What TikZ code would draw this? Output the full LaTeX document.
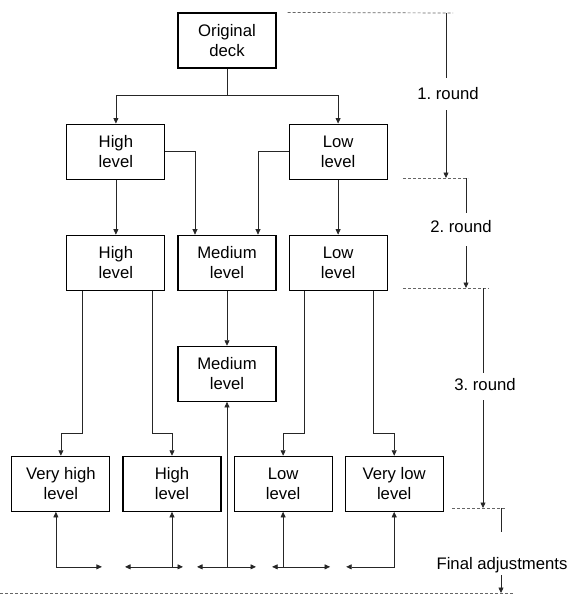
\documentclass[tikz,border=0pt]{standalone}
\usepackage{fontspec}
\setmainfont{Liberation Sans}
\usetikzlibrary{positioning}
\usetikzlibrary{arrows.meta}
\tikzstyle{arrow} = [line width=0.7pt,black!85,->,>={Triangle[length=5.5pt,width=5pt]}]
\tikzstyle{box} = [draw,line width=1.1pt,minimum width=98pt,minimum height=55pt,align=center,inner sep=2pt]
\tikzstyle{roundline} = [black!60,line width=0.7pt,dash pattern=on 3pt off 2pt]
\frenchspacing

\begin{document}
\begin{tikzpicture}[x=1pt,y=-1pt,font=\fontsize{16.7}{20}\selectfont]
\useasboundingbox (0,0) rectangle (571,595);

%Nodes
\node [box] (deck) at (227,40.5) {Original\\deck};
\node [box, below left=55pt and 12pt of deck] (high1) {High\\level};
\node [box, below right=55pt and 12pt of deck] (low1) {Low\\level};
\node [box, below=55pt of high1] (high2) {High\\level};
\node [box, right=12pt of high2] (med2) {Medium\\level};
\node [box, below=55pt of low1] (low2) {Low\\level};
\node [box, below=55pt of med2] (med3) {Medium\\level};
\node [box, below=165pt of high2, xshift=-55pt] (vhigh4) {Very high\\level};
\node [box, right=12pt of vhigh4] (high4) {High\\level};
\node [box, right=12pt of high4] (low4) {Low\\level};
\node [box, right=12pt of low4] (vlow4) {Very low\\level};

%Lines
\draw[arrow] (deck.south) -- ++(0,27) -| (high1.north);
\draw[arrow] (deck.south) -- ++(0,27) -| (low1.north);
\draw[arrow] (high1.south) -- (high2.north);
\draw[arrow] (low1.south) -- (low2.north);
\draw[arrow] (high1.east) -| ([xshift=-32pt]med2.north);
\draw[arrow] (low1.west) -| ([xshift=31pt]med2.north);
\draw[arrow] (med2.south) -- (med3.north);
\draw[arrow] ([xshift=-34pt]high2.south) -- ++(0,143) -| (vhigh4.north);
\draw[arrow] ([xshift=36pt]high2.south) -- ++(0,143) -| (high4.north);
\draw[arrow] ([xshift=-34pt]low2.south) -- ++(0,143) -| (low4.north);
\draw[arrow] ([xshift=35pt]low2.south) -- ++(0,143) -| (vlow4.north);

%Final adjustments
\coordinate [below=55pt of high4.south] (h4b);
\coordinate (m3b) at (med3.south |- h4b);
\coordinate [below=55pt of low4.south] (l4b);
\draw[arrow,<->] ([xshift=-5pt]vhigh4.south) |- ++(46,55);
\draw[arrow] (h4b) -- (high4.south);
\draw[arrow] (h4b) -- ++(-47,0);
\draw[arrow] (h4b) -- ++(11,0);
\draw[arrow] (m3b) -- (med3.south);
\draw[arrow] (m3b) -- ++(-30,0);
\draw[arrow] (m3b) -- ++(29,0);
\draw[arrow] (l4b) -- (low4.south);
\draw[arrow] (l4b) -- ++(-11,0);
\draw[arrow] (l4b) -- ++(47,0);
\draw[arrow,<->] (vlow4.south) |- ++(-48,55);

%Rounds
\draw[roundline] ([xshift=11pt]deck.north east) -- (453,13);
\draw[roundline] (403,178) -- (468,178);
\draw[roundline] (403,288) -- (489,288);
\draw[roundline] (452,508) -- (506,508);
\draw[roundline] (0,593) -- (513,593);

\node (r1) at (448,94) {1. round};
\node (r2) at (461,227) {2. round};
\node (r3) at (485,385) {3. round};
\node (r4) at (502,565) {Final adjustments};

\draw[arrow,-] (446,13) -- (446,78);
\draw[arrow] (446,110) -- (446,178);
\draw[arrow,-] (466,178) -- (466,213);
\draw[arrow] (466,246) -- (466,288);
\draw[arrow,-] (483,288) -- (483,373);
\draw[arrow] (483,400) -- (483,508);
\draw[arrow,-] (501,508) -- (501,532);
\draw[arrow] (501,575) -- (501,593);
\end{tikzpicture}
\end{document}
